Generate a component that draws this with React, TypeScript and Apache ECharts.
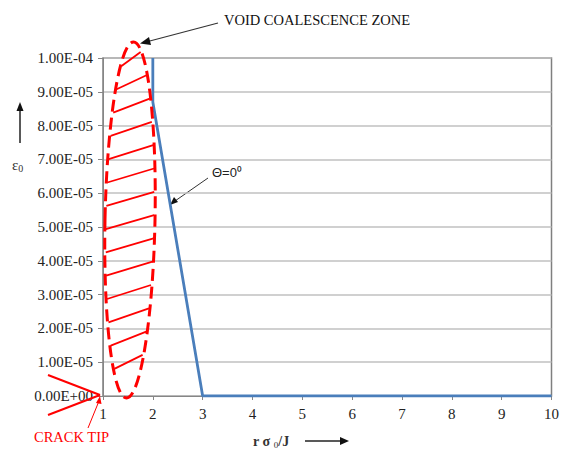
import React, { useEffect, useRef } from "react";
import * as echarts from "echarts";

const xTicks = [1, 2, 3, 4, 5, 6, 7, 8, 9, 10];
const curveX = [2, 2, 3, 10];
const curveY = [1.0e-4, 8.7e-5, 0, 0];
const curveName = "Θ=0⁰";

function fmtSci(v: number): string {
  if (Math.abs(v) < 1e-12) return "0.00E+00";
  const s = v.toExponential(2);
  const [m, e] = s.split("e");
  const n = parseInt(e, 10);
  const sign = n < 0 ? "-" : "+";
  const abs = Math.abs(n);
  return m + "E" + sign + (abs < 10 ? "0" + abs : String(abs));
}

export default function App() {
  const ref = useRef<HTMLDivElement>(null);
  useEffect(() => {
    if (!ref.current) return;
    const chart = echarts.init(ref.current, null, { renderer: "svg" });

    // Ellipse decoration (void coalescence zone)
    const cx = 130, cy = 220, rx = 25, ry = 178;
    const tilt = 0.02;
    const ellX = (y: number, side: number) => {
      const d = (y - cy) / ry;
      const h = rx * Math.sqrt(Math.max(0, 1 - d * d));
      return cx - (y - cy) * tilt + side * h;
    };
    const hatches: any[] = [];
    for (let i = 0; i < 14; i++) {
      const yl = 66 + i * 23.3;
      const yr = yl - 14;
      hatches.push({
        type: "line",
        shape: { x1: ellX(yl, -1) + 1, y1: yl, x2: ellX(yr, 1) - 1, y2: yr },
        style: { stroke: "#ff0000", lineWidth: 1.8 },
        z: 10,
      });
    }

    const serif = "'Liberation Serif', 'Times New Roman', serif";

    chart.setOption({
      animation: false,
      backgroundColor: "#ffffff",
      grid: {
        left: 103,
        right: 6,
        top: 58,
        bottom: 60,
        show: true,
        borderColor: "#7f7f7f",
        borderWidth: 1.5,
      },
      xAxis: {
        type: "value",
        min: 1,
        max: 10,
        interval: 1,
        axisLine: { lineStyle: { color: "#868686", width: 1 } },
        axisTick: { show: true, length: 4, lineStyle: { color: "#868686" } },
        splitLine: { show: false },
        axisLabel: {
          color: "#222",
          fontFamily: serif,
          fontSize: 15,
          margin: 10,
          formatter: (v: number) => (xTicks.includes(v) ? String(v) : ""),
        },
      },
      yAxis: {
        type: "value",
        min: 0,
        max: 1e-4,
        interval: 1e-5,
        axisLine: { show: true, lineStyle: { color: "#868686", width: 1 } },
        axisTick: { show: true, length: 5, lineStyle: { color: "#868686" } },
        splitLine: { show: true, lineStyle: { color: "#c0c0c0", width: 1.5 } },
        axisLabel: {
          color: "#222",
          fontFamily: serif,
          fontSize: 15,
          margin: 10,
          formatter: (v: number) => fmtSci(v),
        },
      },
      series: [
        {
          name: curveName,
          type: "line",
          data: curveX.map((x, i) => [x, curveY[i]]),
          showSymbol: false,
          lineStyle: { color: "#4a7ebb", width: 2.8 },
          z: 5,
        },
      ],
      graphic: [
        {
          type: "ellipse",
          x: cx,
          y: cy,
          rotation: -tilt,
          shape: { cx: 0, cy: 0, rx: rx, ry: ry },
          style: { fill: "none", stroke: "#ff0000", lineWidth: 3, lineDash: [12, 6] },
          z: 10,
        },
        ...hatches,
        // Void coalescence zone label and arrow
        {
          type: "text",
          x: 224,
          y: 20,
          style: {
            text: "VOID COALESCENCE ZONE",
            fill: "#111",
            font: "14.5px " + serif,
            textVerticalAlign: "middle",
          },
        },
        {
          type: "line",
          shape: { x1: 218, y1: 23, x2: 146, y2: 42 },
          style: { stroke: "#333", lineWidth: 1.2 },
        },
        {
          type: "polygon",
          shape: { points: [[140, 43.5], [149, 37], [151, 45]] },
          style: { fill: "#111" },
        },
        // Theta label and arrow
        {
          type: "text",
          x: 212,
          y: 172,
          style: {
            text: "Θ=0⁰",
            fill: "#222",
            font: "13px 'Liberation Sans', Arial, sans-serif",
            textVerticalAlign: "middle",
          },
        },
        {
          type: "line",
          shape: { x1: 208, y1: 178, x2: 175, y2: 201 },
          style: { stroke: "#333", lineWidth: 1 },
        },
        {
          type: "polygon",
          shape: { points: [[170, 205], [174, 197], [178, 202]] },
          style: { fill: "#111" },
        },
        // Crack tip
        {
          type: "line",
          shape: { x1: 48, y1: 375, x2: 100, y2: 395 },
          style: { stroke: "#ff0000", lineWidth: 2 },
          z: 10,
        },
        {
          type: "line",
          shape: { x1: 48, y1: 415, x2: 100, y2: 395 },
          style: { stroke: "#ff0000", lineWidth: 2 },
          z: 10,
        },
        {
          type: "line",
          shape: { x1: 88, y1: 428, x2: 99, y2: 401 },
          style: { stroke: "#ff0000", lineWidth: 1 },
          z: 10,
        },
        {
          type: "polygon",
          shape: { points: [[100, 396], [96, 403], [101.5, 404]] },
          style: { fill: "#ff0000" },
          z: 10,
        },
        {
          type: "text",
          x: 34,
          y: 437,
          style: {
            text: "CRACK TIP",
            fill: "#ff0000",
            font: "14.5px " + serif,
            textVerticalAlign: "middle",
          },
        },
        // x-axis title
        {
          type: "text",
          x: 253,
          y: 441,
          style: {
            text: "{a|r σ }{s|0}{a|/J}",
            textVerticalAlign: "middle",
            rich: {
              a: { fontFamily: serif, fontSize: 14, fontWeight: "bold", fill: "#333", color: "#333" },
              s: { fontFamily: serif, fontSize: 9, fill: "#333", color: "#333", padding: [8, 0, 0, 0] },
            },
          },
        },
        {
          type: "line",
          shape: { x1: 305, y1: 441, x2: 342, y2: 441 },
          style: { stroke: "#222", lineWidth: 1.5 },
        },
        {
          type: "polygon",
          shape: { points: [[349, 441], [340, 437], [340, 445]] },
          style: { fill: "#111" },
        },
        // y-axis title
        {
          type: "text",
          x: 12,
          y: 165,
          style: {
            text: "{a|ε}{s|0}",
            textVerticalAlign: "middle",
            rich: {
              a: { fontFamily: serif, fontSize: 15, fill: "#333", color: "#333" },
              s: { fontFamily: serif, fontSize: 10, fill: "#333", color: "#333", padding: [7, 0, 0, 0] },
            },
          },
        },
        {
          type: "line",
          shape: { x1: 20, y1: 143, x2: 20, y2: 110 },
          style: { stroke: "#222", lineWidth: 1.5 },
        },
        {
          type: "polygon",
          shape: { points: [[20, 102], [16.5, 111], [23.5, 111]] },
          style: { fill: "#111" },
        },
      ],
    });
    return () => chart.dispose();
  }, []);
  return (
    <div
      ref={ref}
      style={{ position: "fixed", left: 0, top: 0, width: 562, height: 456 }}
    />
  );
}
